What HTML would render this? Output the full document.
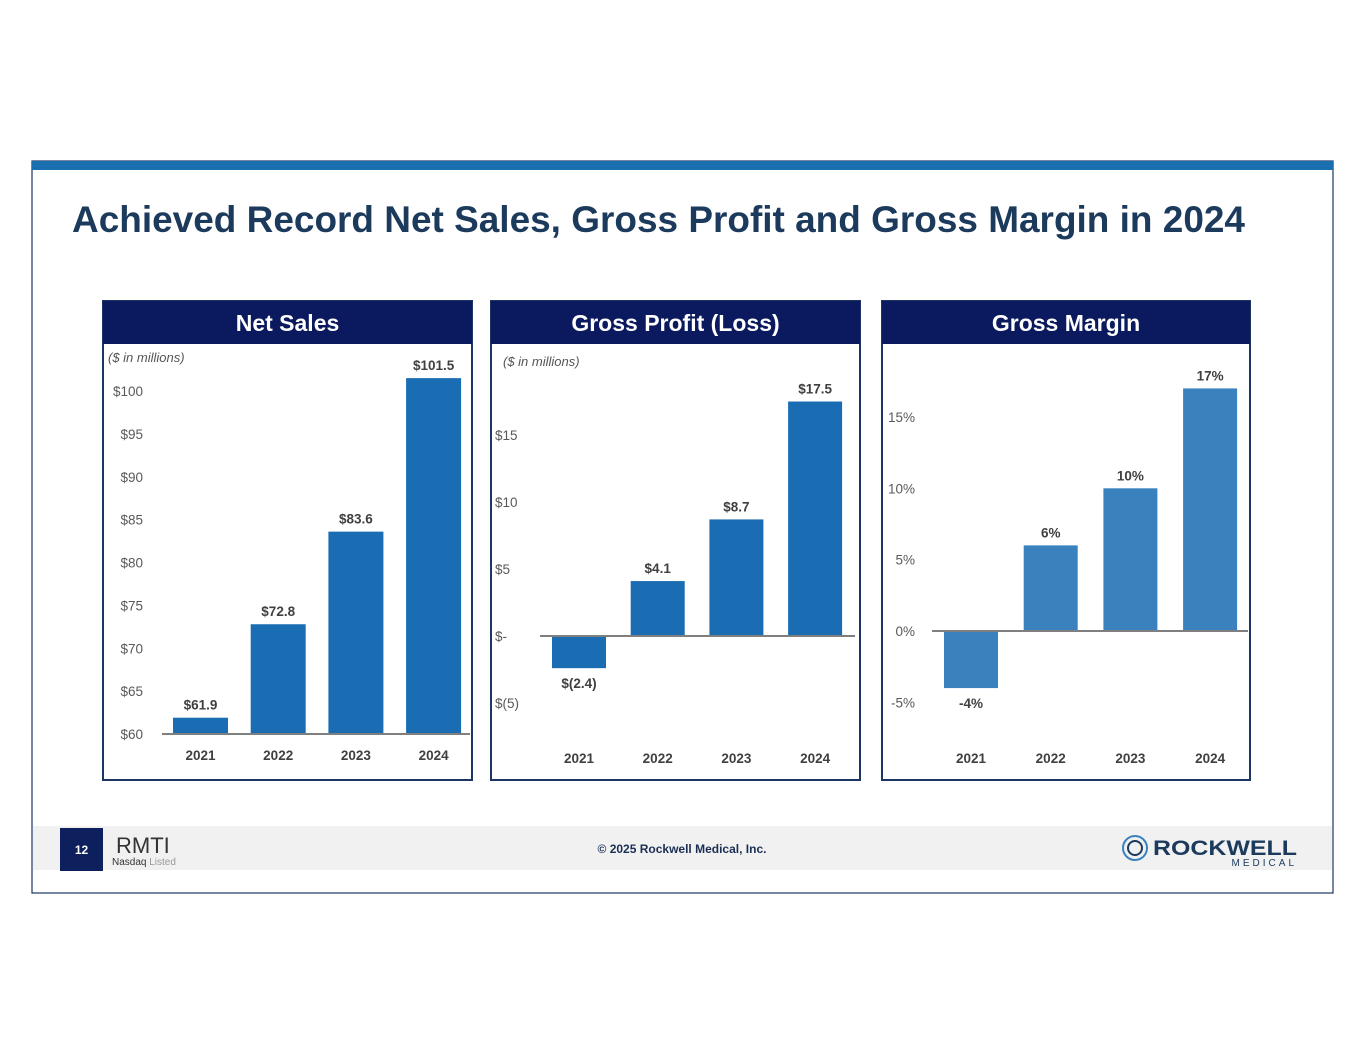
<!DOCTYPE html>
<html><head><meta charset="utf-8">
<style>
html,body{margin:0;padding:0;background:#fff;}
body{width:1365px;height:1055px;overflow:hidden;font-family:"Liberation Sans",sans-serif;}
svg text{font-family:"Liberation Sans",sans-serif;}
</style></head>
<body>
<svg id="s" width="1365" height="1055" xmlns="http://www.w3.org/2000/svg">
  <rect x="32" y="161" width="1301" height="732" fill="#fff" stroke="#1c3564" stroke-width="1.2"/>
  <rect x="32" y="161" width="1301" height="9" fill="#1a6fb0"/>
  <text x="72" y="232" font-size="37" font-weight="bold" fill="#1b3a5c" textLength="1173" lengthAdjust="spacingAndGlyphs">Achieved Record Net Sales, Gross Profit and Gross Margin in 2024</text>

  <rect x="33" y="826" width="1299" height="44" fill="#f1f1f1"/>
  <rect x="60" y="828" width="43" height="43" fill="#0d1f5c"/>
  <text x="81.5" y="854" font-size="12" font-weight="bold" fill="#fff" text-anchor="middle">12</text>
  <text x="116" y="853" font-size="22" fill="#333">RMTI</text>
  <text x="112" y="865" font-size="10" fill="#333">Nasdaq <tspan fill="#999">Listed</tspan></text>
  <text x="682" y="853" font-size="12" font-weight="bold" fill="#1b2f55" text-anchor="middle">© 2025 Rockwell Medical, Inc.</text>
  <g>
    <circle cx="1135" cy="848" r="12" fill="none" stroke="#3a82be" stroke-width="2"/>
    <circle cx="1135" cy="848" r="7" fill="none" stroke="#1b3a5c" stroke-width="2"/>
    <text x="1153" y="855" font-size="21" font-weight="bold" fill="#1b3a5c" textLength="144" lengthAdjust="spacingAndGlyphs">ROCKWELL</text>
    <text x="1297" y="866" font-size="10" fill="#1b3a5c" text-anchor="end" letter-spacing="3">MEDICAL</text>
  </g>
  <g id="charts"></g>
</svg>
<script>
// Net Sales
const nsYears = ["2021","2022","2023","2024"];
const nsValues = [61.9, 72.8, 83.6, 101.5];
const nsLabels = ["$61.9","$72.8","$83.6","$101.5"];
const nsTicks = [60,65,70,75,80,85,90,95,100];
const nsTickLabels = ["$60","$65","$70","$75","$80","$85","$90","$95","$100"];
// Gross Profit
const gpYears = ["2021","2022","2023","2024"];
const gpValues = [-2.4, 4.1, 8.7, 17.5];
const gpLabels = ["$(2.4)","$4.1","$8.7","$17.5"];
const gpTicks = [-5,0,5,10,15];
const gpTickLabels = ["$(5)","$-","$5","$10","$15"];
// Gross Margin
const gmYears = ["2021","2022","2023","2024"];
const gmValues = [-4, 6, 10, 17];
const gmLabels = ["-4%","6%","10%","17%"];
const gmTicks = [-5,0,5,10,15];
const gmTickLabels = ["-5%","0%","5%","10%","15%"];

const NS = "http://www.w3.org/2000/svg";
const root = document.getElementById('charts');
function mk(tag, attrs, parent){
  const e = document.createElementNS(NS, tag);
  for (const k in attrs) e.setAttribute(k, attrs[k]);
  parent.appendChild(e); return e;
}
function chart(cfg){
  const g = mk('g', {}, root);
  
  
  const p = cfg.panel;
  const frame = mk('rect', {x:p.x, y:p.y, width:p.w, height:p.h, fill:'#fff', stroke:'#1c3564', 'stroke-width':2}, g);
  
  
  const hdr = mk('rect', {x:p.x, y:p.y, width:p.w, height:43, fill:'#0b1a5e'}, g);
  
  
  const ht = mk('text', {x:p.x+p.w/2, y:p.y+30, 'font-size':23, 'font-weight':'bold', fill:'#fff', 'text-anchor':'middle'}, g);
  ht.textContent = cfg.title;
  
  
  if (cfg.unit){
    const u = mk('text', {x:cfg.unit[0], y:cfg.unit[1], 'font-size':13, 'font-style':'italic', fill:'#555'}, g);
    u.textContent = '($ in millions)';
    
    
  }
  const y = v => cfg.y0 - (v - cfg.v0) * cfg.ppu;
  const base = Math.max(cfg.v0, 0) === cfg.v0 && cfg.v0 > 0 ? cfg.v0 : 0;
  cfg.ticks.forEach((t,i) => {
    const tt = mk('text', {x:cfg.tickX, y:y(t)+5, 'font-size':13.5, fill:'#595959', 'text-anchor':cfg.tickAnchor}, g);
    tt.textContent = cfg.tickLabels[i];
    
    
  });
  cfg.values.forEach((v,i) => {
    const bx = cfg.barX0 + i*cfg.step;
    const top = Math.min(y(v), y(base)), h = Math.abs(y(v) - y(base));
    const b = mk('rect', {x:bx, y:top, width:cfg.barW, height:h, fill:cfg.color}, g);
    
    
    const ly = v >= base ? y(v) - 8 : y(v) + 20;
    const lt = mk('text', {x:bx+cfg.barW/2, y:ly, 'font-size':13.5, 'font-weight':'bold', fill:'#404040', 'text-anchor':'middle'}, g);
    lt.textContent = cfg.labels[i];
    
    
    const yt = mk('text', {x:bx+cfg.barW/2, y:cfg.yearY, 'font-size':13.5, 'font-weight':'bold', fill:'#404040', 'text-anchor':'middle'}, g);
    yt.textContent = cfg.years[i];
    
    
  });
  const ax = mk('line', {x1:cfg.axisX[0], x2:cfg.axisX[1], y1:y(base), y2:y(base), stroke:'#7f7f7f', 'stroke-width':2}, g);
  
  
}
chart({name:'net-sales-chart', title:'Net Sales', panel:{x:103,y:301,w:369,h:479}, unit:[108,362],
  years:nsYears, values:nsValues, labels:nsLabels, ticks:nsTicks, tickLabels:nsTickLabels,
  v0:60, y0:734, ppu:8.575, tickX:143, tickAnchor:'end', barX0:173, step:77.7, barW:55,
  yearY:760, axisX:[162,470], color:'#1a6db3'});
chart({name:'gross-profit-chart', title:'Gross Profit (Loss)', panel:{x:491,y:301,w:369,h:479}, unit:[503,366],
  years:gpYears, values:gpValues, labels:gpLabels, ticks:gpTicks, tickLabels:gpTickLabels,
  v0:0, y0:636, ppu:13.4, tickX:495, tickAnchor:'start', barX0:552, step:78.7, barW:54,
  yearY:763, axisX:[540,855], color:'#1a6db3'});
chart({name:'gross-margin-chart', title:'Gross Margin', panel:{x:882,y:301,w:368,h:479}, unit:null,
  years:gmYears, values:gmValues, labels:gmLabels, ticks:gmTicks, tickLabels:gmTickLabels,
  v0:0, y0:631, ppu:14.27, tickX:915, tickAnchor:'end', barX0:944, step:79.7, barW:54,
  yearY:763, axisX:[932,1248], color:'#3a82be'});
</script>
</body></html>
